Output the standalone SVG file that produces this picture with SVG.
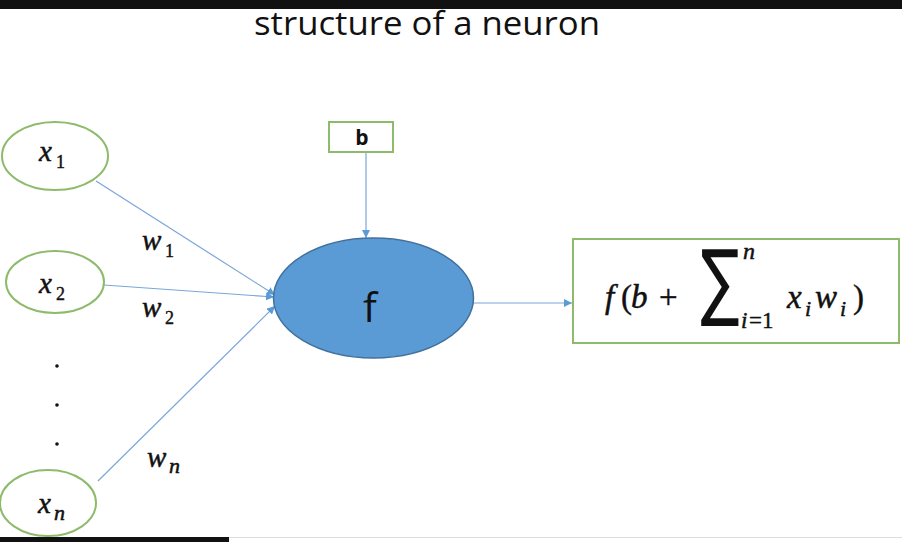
<svg xmlns="http://www.w3.org/2000/svg" width="902" height="542" viewBox="0 0 902 542">
<style>
.in{fill:#fff;stroke:#8dbb6b;stroke-width:2}
.box{fill:#fff;stroke:#8dbb6b;stroke-width:2}
.var{font-family:"Liberation Serif",serif;font-style:italic;fill:#111;stroke:#111;stroke-width:0.5}
.up{font-family:"Liberation Serif",serif;fill:#111;stroke:#111;stroke-width:0.4}
.lnk{stroke:#7aa6d8;stroke-width:1.2;fill:none}
</style>
<defs>
<marker id="ah" viewBox="0 0 10 10" refX="10" refY="5" markerWidth="8" markerHeight="8" markerUnits="userSpaceOnUse" orient="auto">
<path d="M0,0 L10,5 L0,10 z" fill="#5b9bd5"/>
</marker>
</defs>
<rect width="902" height="542" fill="#fff"/>
<rect x="0" y="0" width="902" height="9" fill="#111"/>
<rect x="0" y="537" width="229" height="5" fill="#111"/>
<line x1="229" y1="537.5" x2="902" y2="537.5" stroke="#ddd" stroke-width="1"/>
<text x="427" y="35" text-anchor="middle" font-family="Open Sans, sans-serif" font-size="33" fill="#111" textLength="346" lengthAdjust="spacingAndGlyphs">structure of a neuron</text>

<g id="connectors">
<line class="lnk" x1="96" y1="181" x2="275" y2="295" marker-end="url(#ah)"/>
<line class="lnk" x1="104" y1="285" x2="274" y2="297" marker-end="url(#ah)"/>
<line class="lnk" x1="98" y1="481" x2="275" y2="306" marker-end="url(#ah)"/>
<line class="lnk" x1="366" y1="152" x2="366" y2="238" marker-end="url(#ah)"/>
<line class="lnk" x1="473" y1="303" x2="572" y2="303" marker-end="url(#ah)"/>
</g>

<g id="x1">
<ellipse class="in" cx="55" cy="156" rx="53" ry="34"/>
<text class="var" x="39" y="161" font-size="29">x</text>
<text class="up" x="56" y="168" font-size="18">1</text>
</g>
<g id="x2">
<ellipse class="in" cx="55" cy="282" rx="49" ry="31"/>
<text class="var" x="39" y="293" font-size="29">x</text>
<text class="up" x="56" y="300" font-size="18">2</text>
</g>
<g id="xn">
<ellipse class="in" cx="48" cy="503" rx="48" ry="33"/>
<text class="var" x="38" y="513" font-size="29">x</text>
<text class="var" x="54" y="520" font-size="22">n</text>
</g>
<g id="dots" fill="#111">
<circle cx="57" cy="366" r="1.8"/>
<circle cx="57" cy="405" r="1.8"/>
<circle cx="57" cy="444" r="1.8"/>
</g>
<g id="weights">
<text class="var" x="142" y="250" font-size="29">w</text>
<text class="up" x="165" y="257" font-size="18">1</text>
<text class="var" x="142" y="317" font-size="29">w</text>
<text class="up" x="165" y="324" font-size="18">2</text>
<text class="var" x="147" y="467" font-size="29">w</text>
<text class="var" x="169" y="473" font-size="22">n</text>
</g>
<g id="b">
<rect class="box" x="329" y="122" width="64" height="30"/>
<text x="362" y="145" text-anchor="middle" font-family="Open Sans, sans-serif" font-weight="bold" font-size="21" fill="#111">b</text>
</g>
<g id="f">
<ellipse cx="373.5" cy="298" rx="100" ry="60" fill="#5b9bd5" stroke="#41719c" stroke-width="1.5"/>
<text x="370" y="322" text-anchor="middle" font-family="Open Sans, sans-serif" font-size="41" fill="#111">f</text>
</g>
<g id="output">
<rect class="box" x="573" y="239" width="326" height="104"/>
<text class="var" x="605" y="308" font-size="33">f</text>
<text class="up" x="621" y="308" font-size="33">(</text>
<text class="var" x="631" y="308" font-size="33">b</text>
<text class="up" x="659" y="308" font-size="33">+</text>
<text transform="translate(720,310) scale(1,1.45)" text-anchor="middle" font-family="DejaVu Sans, sans-serif" font-size="58" fill="#111">∑</text>
<text class="var" x="743" y="259" font-size="24">n</text>
<text class="var" x="741" y="328" font-size="23">i</text>
<text class="up" x="749" y="328" font-size="23">=1</text>
<text class="var" x="787" y="308" font-size="33">x</text>
<text class="var" x="805" y="316" font-size="22">i</text>
<text class="var" x="815" y="308" font-size="33">w</text>
<text class="var" x="840" y="316" font-size="22">i</text>
<text class="up" x="853" y="308" font-size="33">)</text>
</g>
</svg>
